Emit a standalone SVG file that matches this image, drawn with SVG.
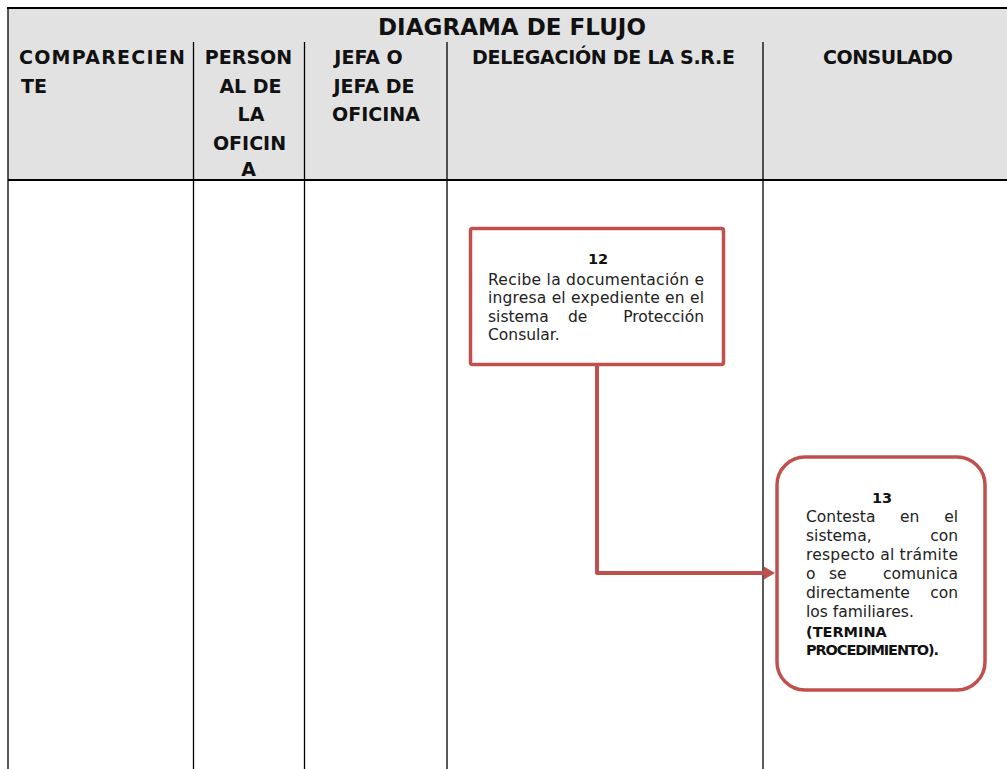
<svg xmlns="http://www.w3.org/2000/svg" width="1007" height="769" viewBox="0 0 1007 769">
<defs>
<style>
.hd{font-family:"DejaVu Sans","Liberation Sans",sans-serif;font-weight:bold;font-size:19px;fill:#111}
.ttl{font-family:"DejaVu Sans","Liberation Sans",sans-serif;font-weight:bold;font-size:23px;fill:#111}
.tx{font-family:"DejaVu Sans","Liberation Sans",sans-serif;font-size:15.5px;fill:#222}
.tb{font-family:"DejaVu Sans","Liberation Sans",sans-serif;font-weight:bold;font-size:14.5px;fill:#111}
.grid{stroke:#000;stroke-width:1.3;fill:none}
.box{fill:#fff;stroke:#C0504D;stroke-width:3.5}
.conn{fill:none;stroke:#C0504D;stroke-width:4;stroke-linejoin:round}
</style>
<marker id="arr" markerWidth="4" markerHeight="4" refX="0" refY="2" orient="auto" markerUnits="userSpaceOnUse" viewBox="0 0 4 4" overflow="visible">
<path d="M0,-4.5 L11,2 L0,8.5 Z" fill="#C0504D"/>
</marker>
</defs>
<rect width="1007" height="769" fill="#fff"/>
<g id="header">
<rect x="8" y="8" width="999" height="172" fill="#E2E2E2"/>
<line x1="7" y1="8" x2="1007" y2="8" stroke="#000" stroke-width="2"/>
<line x1="8" y1="8" x2="8" y2="769" class="grid" stroke-width="1.6"/>
<line x1="8" y1="180" x2="1007" y2="180" stroke="#000" stroke-width="1.8"/>
<text class="ttl" x="512" y="35" text-anchor="middle" textLength="268">DIAGRAMA DE FLUJO</text>
<text class="hd" x="19" y="64" textLength="166">COMPARECIEN</text>
<text class="hd" x="21" y="93">TE</text>
<text class="hd" x="248.5" y="64" text-anchor="middle">PERSON</text>
<text class="hd" x="250.5" y="93" text-anchor="middle">AL DE</text>
<text class="hd" x="251" y="121" text-anchor="middle">LA</text>
<text class="hd" x="249.5" y="150" text-anchor="middle">OFICIN</text>
<text class="hd" x="248.5" y="176" text-anchor="middle">A</text>
<text class="hd" x="368.5" y="64" text-anchor="middle">JEFA O</text>
<text class="hd" x="374" y="93" text-anchor="middle">JEFA DE</text>
<text class="hd" x="376" y="121" text-anchor="middle">OFICINA</text>
<text class="hd" x="603.5" y="64" text-anchor="middle" textLength="263">DELEGACIÓN DE LA S.R.E</text>
<text class="hd" x="888" y="64" text-anchor="middle" textLength="130">CONSULADO</text>
</g>
<g id="lanes">
<line class="grid" x1="193.5" y1="42" x2="193.5" y2="769"/>
<line class="grid" x1="304.5" y1="42" x2="304.5" y2="769"/>
<line class="grid" x1="447" y1="42" x2="447" y2="769"/>
<line class="grid" x1="763" y1="42" x2="763" y2="769"/>
</g>
<g id="connectors">
<path class="conn" d="M597,366 L597,573 L764,573" marker-end="url(#arr)"/>
</g>
<g id="node12">
<rect class="box" x="470.5" y="228.5" width="253" height="136" rx="2"/>
<text class="tb" x="598" y="264" text-anchor="middle">12</text>
<text class="tx" x="488" y="284.5" textLength="216">Recibe la documentación e</text>
<text class="tx" x="488" y="303" textLength="216">ingresa el expediente en el</text>
<text class="tx" x="488" y="321.5">sistema</text>
<text class="tx" x="568" y="321.5">de</text>
<text class="tx" x="704" y="321.5" text-anchor="end">Protección</text>
<text class="tx" x="488" y="340">Consular.</text>
</g>
<g id="node13">
<rect class="box" x="777" y="457" width="208" height="233" rx="28"/>
<text class="tb" x="882" y="503" text-anchor="middle">13</text>
<text class="tx" x="806" y="522">Contesta</text>
<text class="tx" x="900" y="522">en</text>
<text class="tx" x="958" y="522" text-anchor="end">el</text>
<text class="tx" x="806" y="541">sistema,</text>
<text class="tx" x="958" y="541" text-anchor="end">con</text>
<text class="tx" x="806" y="560" textLength="152">respecto al trámite</text>
<text class="tx" x="806" y="579">o</text>
<text class="tx" x="829" y="579">se</text>
<text class="tx" x="958" y="579" text-anchor="end">comunica</text>
<text class="tx" x="806" y="598">directamente</text>
<text class="tx" x="958" y="598" text-anchor="end">con</text>
<text class="tx" x="806" y="617">los familiares.</text>
<text class="tb" x="806" y="637">(TERMINA</text>
<text class="tb" x="806" y="655" textLength="133">PROCEDIMIENTO).</text>
</g>
</svg>
